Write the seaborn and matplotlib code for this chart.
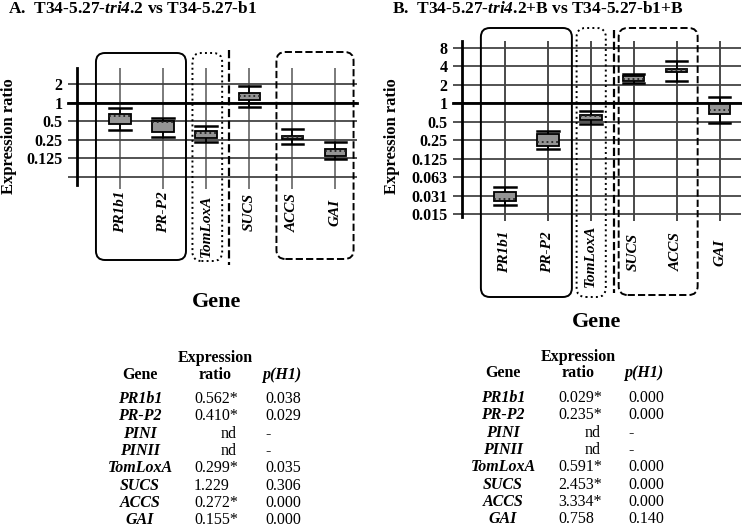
import numpy as np
import pandas as pd
import matplotlib
matplotlib.use('Agg')
import matplotlib.pyplot as plt
import seaborn as sns
from matplotlib.patches import FancyBboxPatch
from matplotlib.lines import Line2D
from matplotlib.transforms import IdentityTransform, ScaledTranslation

plt.rcParams['font.family'] = ['Liberation Serif', 'DejaVu Serif']
plt.rcParams['mathtext.fontset'] = 'custom'
plt.rcParams['mathtext.rm'] = 'Liberation Serif:bold'
plt.rcParams['mathtext.bfit'] = 'Liberation Serif:italic:bold'

genes = ['PR1b1', 'PR-P2', 'TomLoxA', 'SUCS', 'ACCS', 'GAI']

# panel A : whisker low, q1, median, q3, whisker high
a_lo  = [0.36, 0.28, 0.227, 0.84, 0.215, 0.124]
a_q1  = [0.455, 0.34, 0.27, 1.12, 0.257, 0.138]
a_med = [0.60, 0.49, 0.32, 1.30, 0.275, 0.165]
a_q3  = [0.66, 0.51, 0.35, 1.44, 0.29, 0.177]
a_hi  = [0.82, 0.56, 0.42, 1.84, 0.37, 0.23]

# panel B
b_lo  = [0.022, 0.183, 0.46, 2.14, 2.28, 0.47]
b_q1  = [0.0257, 0.20, 0.53, 2.28, 3.23, 0.66]
b_med = [0.0274, 0.235, 0.615, 2.52, 3.44, 0.77]
b_q3  = [0.0352, 0.32, 0.655, 2.78, 3.62, 0.96]
b_hi  = [0.0436, 0.354, 0.74, 2.97, 4.82, 1.27]

a_ticks = [2, 1, 0.5, 0.25, 0.125, 0.0625]
a_ticklabels = ['2', '1', '0.5', '0.25', '0.125', '']
b_ticks = [8, 4, 2, 1, 0.5, 0.25, 0.125, 0.0625, 0.03125, 0.015625]
b_ticklabels = ['8', '4', '2', '1', '0.5', '0.25', '0.125', '0.063', '0.031', '0.015']

table_genes = ['PR1b1', 'PR-P2', 'PINI', 'PINII', 'TomLoxA', 'SUCS', 'ACCS', 'GAI']
a_tab_ratio = ['0.562*', '0.410*', 'nd', 'nd', '0.299*', '1.229', '0.272*', '0.155*']
a_tab_p     = ['0.038', '0.029', '-', '-', '0.035', '0.306', '0.000', '0.000']
b_tab_ratio = ['0.029*', '0.235*', 'nd', 'nd', '0.591*', '2.453*', '3.334*', '0.758']
b_tab_p     = ['0.000', '0.000', '-', '-', '0.000', '0.000', '0.000', '0.140']

W, H = 742, 527


def long_df(lo, q1, med, q3, hi):
    rows = []
    for i, g in enumerate(genes):
        for v in (lo[i], q1[i], med[i], q3[i], hi[i]):
            rows.append({'gene': g, 'ratio': v})
    return pd.DataFrame(rows)


dfa = long_df(a_lo, a_q1, a_med, a_q3, a_hi)
dfb = long_df(b_lo, b_q1, b_med, b_q3, b_hi)

fig = plt.figure(figsize=(W / 100, H / 100), dpi=100)
axA = fig.add_axes([77 / W, 1 - 185 / H, 280 / W, 117 / H])
axB = fig.add_axes([462 / W, 1 - 217 / H, 279 / W, 176 / H])


def panel(ax, df, ticks, ticklabels, ylim, lab_off, tom_shift, hcol, vcol):
    sns.boxplot(data=df, x='gene', y='ratio', order=genes, ax=ax, whis=np.inf,
                width=0.5, color='#949494', saturation=1, linecolor='black',
                linewidth=1.3, log_scale=2,
                medianprops={'color': '#222222', 'linestyle': ':', 'linewidth': 1.3},
                capprops={'linewidth': 1.8})
    # caps as wide as the boxes
    for ln in ax.lines:
        xd = np.asarray(ln.get_xdata(), dtype=float)
        yd = np.asarray(ln.get_ydata(), dtype=float)
        if len(xd) == 2 and yd[0] == yd[1] and ln.get_linestyle() == '-':
            c = xd.mean()
            ln.set_xdata([c - 0.25, c + 0.25])
    ax.set_xlim(-1, 5.5)
    ax.set_ylim(*ylim)
    ax.set_yticks(ticks)
    ax.set_yticklabels(ticklabels, fontweight='bold', fontsize=11.5)
    ax.yaxis.set_minor_locator(matplotlib.ticker.NullLocator())
    ax.set_xlabel('')
    ax.set_ylabel('')
    ax.grid(True, axis='y', color=hcol, lw=1.3)
    ax.grid(True, axis='x', color=vcol, lw=1.3)
    ax.set_axisbelow(True)
    for s in ['top', 'right', 'bottom']:
        ax.spines[s].set_visible(False)
    ax.spines['left'].set_linewidth(2)
    ax.tick_params(axis='y', direction='out', length=6.5, width=1.3, color=hcol, pad=4)
    ax.tick_params(axis='x', direction='out', length=3, width=1.3, color=vcol, pad=lab_off - 3)
    ax.set_xticks(range(len(genes)))
    ax.set_xticklabels(genes, rotation=90, fontweight='bold', fontstyle='italic',
                       fontsize=11, va='center')
    lbl = ax.get_xticklabels()[2]
    lbl.set_transform(lbl.get_transform() + ScaledTranslation(0, -tom_shift / 100, fig.dpi_scale_trans))
    ax.axhline(1, xmin=-0.032, xmax=1, color='black', lw=2, clip_on=False, zorder=1.5)


panel(axA, dfa, a_ticks, a_ticklabels, (2 ** -4.43, 2 ** 1.865), 19.5, 14, '#444444', '#707070')
panel(axB, dfb, b_ticks, b_ticklabels, (2 ** -6.16, 2 ** 3.38), 25.2, 4, '#444444', '#3a3a3a')


def px_x(ax, xd):
    return ax.transData.transform((xd, 1))[0]


def rbox(ax, x0, x1, ytop, ybot, ls):
    p0 = px_x(ax, x0)
    p1 = px_x(ax, x1)
    patch = FancyBboxPatch((p0, H - ybot), p1 - p0, ybot - ytop,
                           boxstyle='round,pad=0,rounding_size=9',
                           transform=IdentityTransform(), fill=False,
                           lw=1.4, ls=ls, ec='black')
    fig.patches.append(patch)


def vline(ax, xd, ytop, ybot):
    p = px_x(ax, xd)
    fig.lines.append(Line2D([p, p], [H - ytop, H - ybot], transform=IdentityTransform(),
                            color='black', lw=1.6, ls='--'))


rbox(axA, -0.56, 1.53, 53, 260, '-')
rbox(axA, 1.68, 2.37, 53, 261, ':')
vline(axA, 2.53, 50, 265)
rbox(axA, 3.63, 5.42, 52, 259, '--')

rbox(axB, -0.56, 1.56, 28, 297, '-')
rbox(axB, 1.67, 2.35, 28, 297, ':')
vline(axB, 2.53, 30, 293)
rbox(axB, 2.65, 4.49, 28, 295, '--')

# titles and axis labels
fig.text(8 / W, 1 - 9 / H, r'A.  T34-5.27-$\mathbfit{tri4}$.2 vs T34-5.27-b1',
         fontsize=12.5, fontweight='bold', va='center', ha='left')
fig.text(392 / W, 1 - 9 / H, r'B.  T34-5.27-$\mathbfit{tri4}$.2+B vs T34-5.27-b1+B',
         fontsize=12.5, fontweight='bold', va='center', ha='left')
fig.text(9 / W, 1 - 136 / H, 'Expression ratio', rotation=90, fontsize=12,
         fontweight='bold', ha='center', va='center')
fig.text(392 / W, 1 - 136 / H, 'Expression ratio', rotation=90, fontsize=12,
         fontweight='bold', ha='center', va='center')
fig.text(217 / W, 1 - 302 / H, 'Gene', fontsize=16, fontweight='bold', ha='center', va='center')
fig.text(597 / W, 1 - 322 / H, 'Gene', fontsize=16, fontweight='bold', ha='center', va='center')


def table(xg, xn, xnd, xp, xe, xph, yh1, yh2, y0, ratios, pvals):
    def t(x, y, s, **kw):
        fig.text(x / W, 1 - y / H, s, fontsize=11.5, va='center', **kw)
    t(xe, yh1, 'Expression', ha='center', fontweight='bold')
    t(xe, yh2, 'ratio', ha='center', fontweight='bold')
    t(xg, yh2, 'Gene', ha='center', fontweight='bold')
    t(xph, yh2, 'p(H1)', ha='center', fontweight='bold', fontstyle='italic')
    for i, g in enumerate(table_genes):
        y = y0 + 17.35 * i
        t(xg, y, g, ha='center', fontweight='bold', fontstyle='italic')
        if ratios[i] == 'nd':
            t(xnd, y, ratios[i], ha='right')
        else:
            t(xn, y, ratios[i], ha='left')
        t(xp, y, pvals[i], ha='left')


table(140, 194, 237, 265, 215, 282, 358, 375, 399, a_tab_ratio, a_tab_p)
table(503, 558, 601, 628, 578.5, 643.5, 357, 373, 398, b_tab_ratio, b_tab_p)

fig.savefig('out.png', dpi=100)
